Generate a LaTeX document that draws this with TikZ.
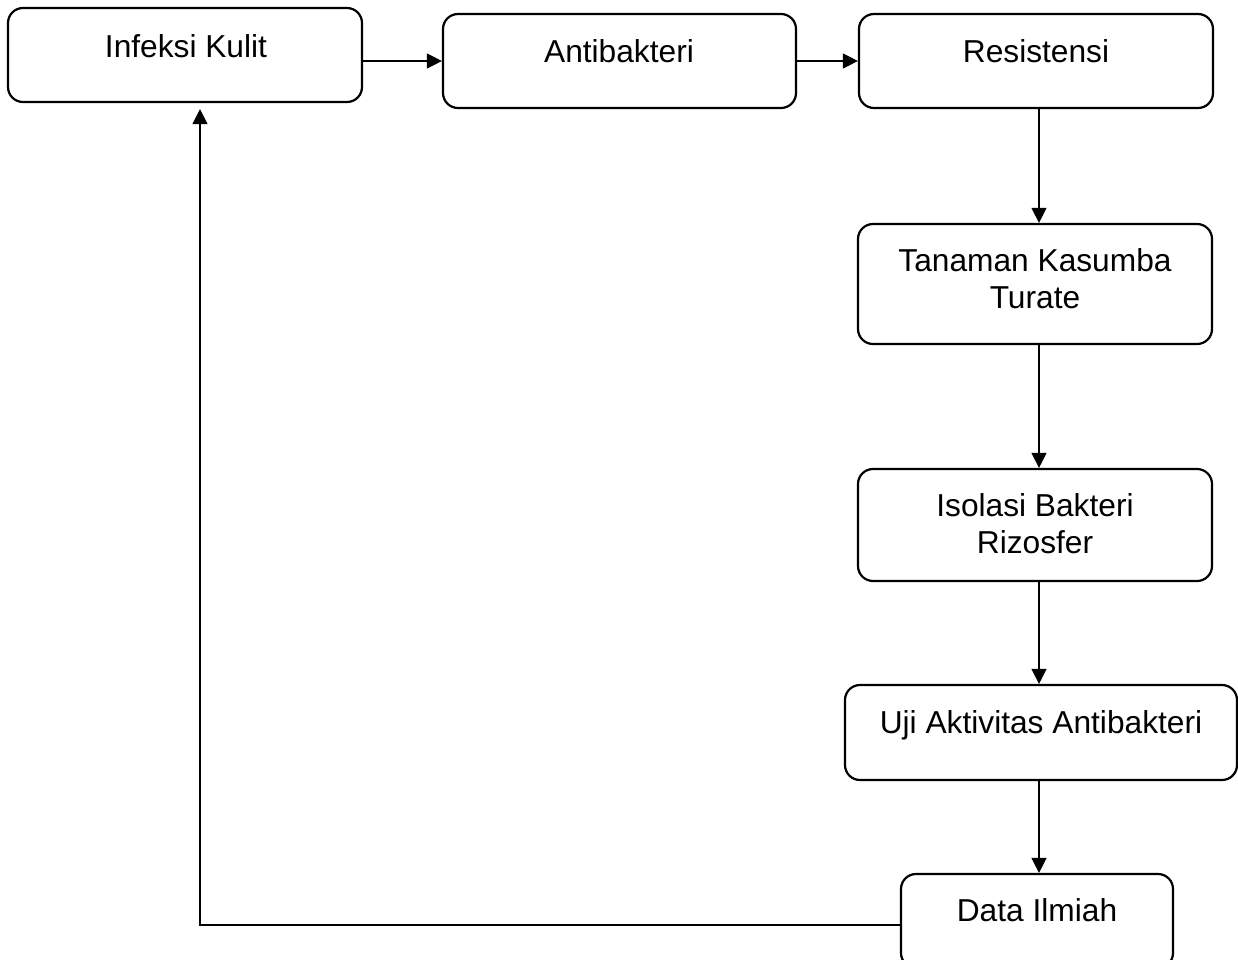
\documentclass[tikz,border=0pt]{standalone}
\usepackage{fontspec}
\setmainfont{Liberation Sans}
\usetikzlibrary{arrows.meta}
\begin{document}
\begin{tikzpicture}[x=1pt,y=-1pt,
  box/.style={draw=black,line width=2.2pt,rounded corners=15pt,inner sep=0pt,fill=white},
  lbl/.style={inner sep=0pt,align=center,anchor=base,font=\fontsize{31.7}{37}\selectfont},
  conn/.style={line width=1.2pt,-{Triangle[length=15pt,width=15pt]}}]
\useasboundingbox (0,0) rectangle (1238,959);
\clip (0,0) rectangle (1238,959);
% boxes
\node[box,minimum width=354pt,minimum height=94pt] (inf) at (185,55) {};
\node[box,minimum width=353pt,minimum height=94pt] (anti) at (619.5,61) {};
\node[box,minimum width=354pt,minimum height=94pt] (res) at (1036,61) {};
\node[box,minimum width=354pt,minimum height=120pt] (tan) at (1035,284) {};
\node[box,minimum width=354pt,minimum height=112pt] (iso) at (1035,525) {};
\node[box,minimum width=392pt,minimum height=95pt] (uji) at (1041,732.5) {};
\node[box,minimum width=272pt,minimum height=94pt] (data) at (1037,921) {};
% labels (base = baseline of last line)
\node[lbl] (tinf) at (186,57) {Infeksi Kulit};
\node[lbl] (tanti) at (619,62) {Antibakteri};
\node[lbl] (tres) at (1036,62) {Resistensi};
\node[lbl] (ttan) at (1035,308) {Tanaman Kasumba\\Turate};
\node[lbl] (tiso) at (1035,553) {Isolasi Bakteri\\Rizosfer};
\node[lbl] (tuji) at (1041,733) {Uji Aktivitas Antibakteri};
\node[lbl] (tdata) at (1037,921) {Data Ilmiah};
% connectors
\coordinate (corner) at (200,925);
\draw[conn] (inf.east |- anti.west) -- (anti.west);
\draw[conn] (anti.east) -- (res.west);
\draw[conn] (res.south -| 1039,0) -- (tan.north -| 1039,0);
\draw[conn] (tan.south -| 1039,0) -- (iso.north -| 1039,0);
\draw[conn] (iso.south -| 1039,0) -- (uji.north -| 1039,0);
\draw[conn] (uji.south -| 1039,0) -- (data.north -| 1039,0);
\draw[conn,shorten >=6pt] (data.west |- corner) -- (corner) -- (corner |- inf.south);
\end{tikzpicture}
\end{document}
